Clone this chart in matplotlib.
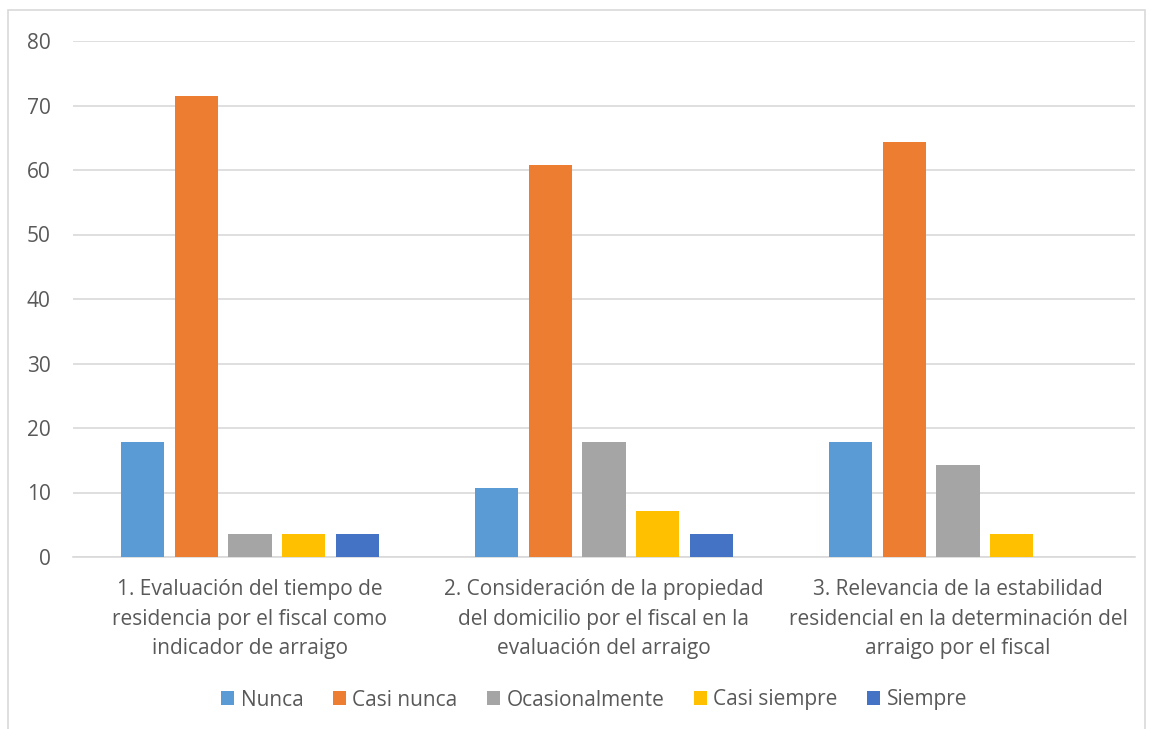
import numpy as np
import matplotlib.pyplot as plt
from matplotlib.patches import Rectangle

categories = [
    "1. Evaluación del tiempo de\nresidencia por el fiscal como\nindicador de arraigo",
    "2. Consideración de la propiedad\ndel domicilio por el fiscal en la\nevaluación del arraigo",
    "3. Relevancia de la estabilidad\nresidencial en la determinación del\narraigo por el fiscal",
]
series = ["Nunca", "Casi nunca", "Ocasionalmente", "Casi siempre", "Siempre"]
nunca = [17.9, 10.7, 17.9]
casi_nunca = [71.4, 60.7, 64.3]
ocasional = [3.6, 17.9, 14.3]
casi_siempre = [3.6, 7.1, 3.6]
siempre = [3.6, 3.6, 0]
values = [nunca, casi_nunca, ocasional, casi_siempre, siempre]
colors = ["#5B9BD5", "#ED7D31", "#A5A5A5", "#FFC000", "#4472C4"]

plt.rcParams['font.family'] = ['Open Sans', 'DejaVu Sans']
txt = "#595959"

fig = plt.figure(figsize=(11.51, 7.29), dpi=100)
fig.patches.append(Rectangle((8/1151, -0.01), 1137/1151, 1 - 10/729 + 0.01,
                             transform=fig.transFigure, fill=False,
                             edgecolor="#D9D9D9", linewidth=1.2))
ax = fig.add_axes([73/1151, 1 - 557/729, 1062/1151, 516/729])

x = np.arange(len(categories))
step = 0.1525
width = 0.1215
for i, (name, vals) in enumerate(zip(series, values)):
    ax.bar(x + (i - 2) * step, vals, width, color=colors[i], label=name, zorder=3)

ax.set_xlim(-0.5, 2.5)
ax.set_ylim(0, 80)
ax.set_yticks(range(0, 81, 10))
ax.yaxis.grid(True, color="#D9D9D9", linewidth=1.2, zorder=0)
for s in ["top", "right", "left"]:
    ax.spines[s].set_visible(False)
ax.spines["bottom"].set_color("#D9D9D9")
ax.spines["bottom"].set_linewidth(1.2)
ax.tick_params(axis="both", length=0, labelsize=15, colors=txt)
ax.tick_params(axis="y", pad=16)
ax.tick_params(axis="x", pad=16)
ax.set_xticks(x)
ax.set_xticklabels(categories, linespacing=1.52)

ax.legend(loc="center", bbox_to_anchor=(0.4906, (1 - 700/729 - (1 - 557/729)) / (516/729)),
          ncol=5, frameon=False, fontsize=15, handlelength=0.65, handleheight=0.65,
          handletextpad=0.3, columnspacing=1.4, labelcolor=txt)

plt.savefig("out.png", dpi=100)
